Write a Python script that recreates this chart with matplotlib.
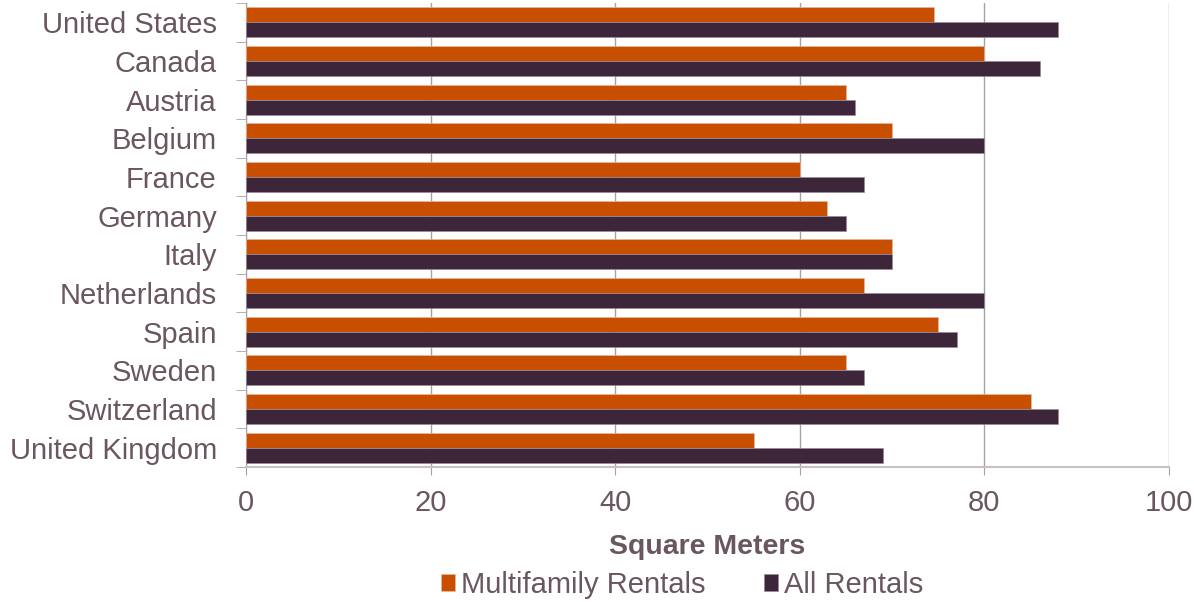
import matplotlib
matplotlib.use("Agg")
import matplotlib.pyplot as plt
import numpy as np

countries = ["United States", "Canada", "Austria", "Belgium", "France", "Germany",
             "Italy", "Netherlands", "Spain", "Sweden", "Switzerland", "United Kingdom"]
multifamily = [74.5, 80, 65, 70, 60, 63, 70, 67, 75, 65, 85, 55]
all_rentals = [88, 86, 66, 80, 67, 65, 70, 80, 77, 67, 88, 69]
xticks = [0, 20, 40, 60, 80, 100]

plt.rcParams['font.family'] = ['Liberation Sans', 'DejaVu Sans']
txt = '#6A5661'
orange = '#C84E00'
dark = '#3D2639'

fig = plt.figure(figsize=(11.94, 6.02), dpi=100)
ax = fig.add_axes([246/1194, 1-467/602, (1169-246)/1194, (467-3)/602])

n = len(countries)
y = np.arange(n)
h = 0.39
ax.barh(y - h/2, multifamily, height=h, color=orange, edgecolor='#E8B8A0', linewidth=0.5, zorder=3, label='Multifamily Rentals')
ax.barh(y + h/2, all_rentals, height=h, color=dark, edgecolor='#9A8A96', linewidth=0.5, zorder=3, label='All Rentals')

ax.set_ylim(n - 0.5, -0.5)
ax.set_xlim(0, 100)
ax.set_xticks(xticks)
ax.set_xticklabels([str(t) for t in xticks])
ax.set_yticks(y)
ax.set_yticklabels(countries)
ax.set_yticks(np.arange(-0.5, n, 1), minor=True)

ax.grid(axis='x', color='#A8A0A6', linewidth=1, zorder=0)
for s in ['top', 'right']:
    ax.spines[s].set_visible(False)
ax.spines['left'].set_color('#A8A0A6')
ax.spines['bottom'].set_color('#C8C0C6')
ax.spines['bottom'].set_linewidth(1.5)
ax.tick_params(axis='y', which='major', length=0, labelsize=21, labelcolor=txt, pad=21)
ax.tick_params(axis='y', which='minor', length=7, color='#A8A0A6', direction='out')
ax.tick_params(axis='x', length=6, color='#A8A0A6', labelsize=21, labelcolor=txt, pad=10)

ax.set_xlabel('Square Meters', fontsize=20.5, fontweight='bold', color=txt, labelpad=12)

leg = fig.legend(loc='center', bbox_to_anchor=(682/1194, 17/602), ncol=2, frameon=False,
                 fontsize=21, handlelength=0.5, handleheight=0.5, handletextpad=0.2,
                 columnspacing=2.0, labelcolor=txt, borderpad=0, borderaxespad=0)

fig.savefig('out.png', dpi=100)
